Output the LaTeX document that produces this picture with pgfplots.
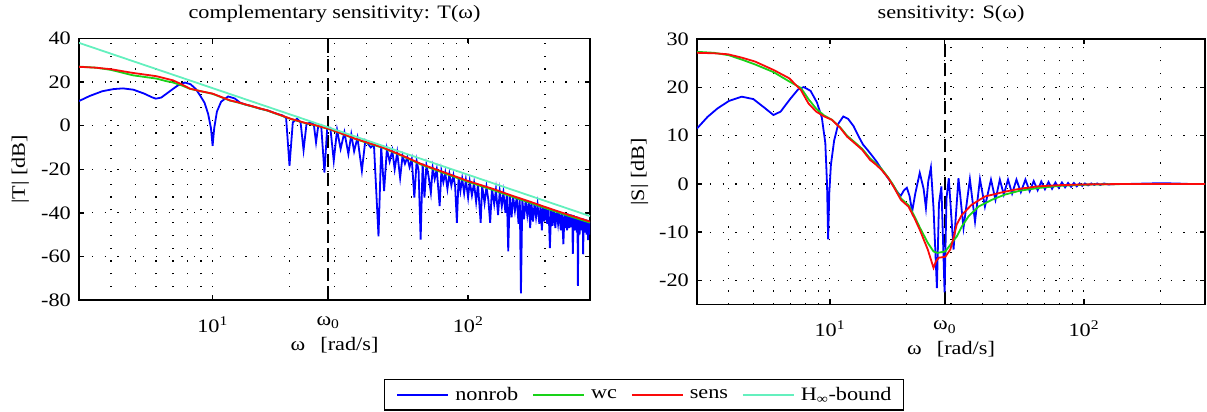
\documentclass[border=0pt]{standalone}
\usepackage{fontspec}
\setmainfont{Liberation Serif}[FakeStretch=1.17]
\usepackage{pgfplots}
\usepackage{pgfplotstable}
\pgfplotsset{compat=1.18}
\definecolor{cblue}{RGB}{0,0,255}
\definecolor{cgreen}{RGB}{25,210,25}
\definecolor{cred}{RGB}{250,10,10}
\definecolor{ccyan}{RGB}{100,240,190}
\newcommand{\myfont}{\fontsize{19bp}{22bp}\selectfont}
\pgfplotstableread{
w db
3.0 11.3
3.3 13.6
3.7 15.8
4.1 16.8
4.46 17.1
4.9 16.5
5.4 14.7
5.8 13.0
6.0 12.4
6.3 12.9
6.8 15.8
7.3 18.4
7.79 19.8
8.2 19.0
8.6 16.8
8.92 14.0
9.3 10.5
9.6 5.5
9.85 -1
10.0 -9.2
10.15 -1
10.4 6.5
10.8 11.0
11.5 13.4
12.2 12.5
12.8 10.6
13.5 9.6
14.3 8.9
15.3 7.8
16.4 7.0
17.3 6.0
18.0 5.3
18.8 4.7
19.4 3.5
20.0 -18.4
20.6 1.5
21.4 3.2
22.1 1.5
22.7 -11.2
23.3 0.6
24.2 1.6
24.9 0.5
25.4 -7.7
25.9 -0.2
26.6 0.3
27.4 -21.5
28.1 -0.8
28.9 -1.0
29.8 -16.1
30.7 -2.0
31.7 -10.7
32.8 -3.0
34.0 -13.0
34.9 -4.0
35.8 -11.8
36.9 -5.5
38.4 -20.7
39.6 -6.8
41.6 -10.0
42.8 -8.6
44.6 -50.8
45.7 -9.6
46.9 -30.0
48.1 -10.7
49.3 -16.5
50.5 -11.4
51.6 -20.0
52.8 -12.3
54.2 -24.0
55.4 -13.8
56.6 -17.5
57.8 -14.5
59.0 -19.0
60.2 -15.3
61.6 -33.0
62.9 -16.2
64.0 -20.5
65.2 -52.3
66.4 -17.4
67.5 -33.0
68.7 -18.2
70.0 -23.0
71.5 -30.8
72.7 -19.3
74.0 -24.5
75.4 -20.0
77.4 -36.9
78.6 -20.9
80.0 -26.0
81.4 -21.6
83.0 -29.0
84.5 -22.2
86.0 -27.5
87.6 -22.8
89.0 -28.0
90.4 -44.6
91.8 -23.6
93.3 -30.0
94.8 -24.3
96.5 -31.0
98.0 -24.9
100.0 -33.0
101.5 -25.6
103.5 -32.0
105.5 -26.3
107.5 -35.0
109.3 -26.9
112.0 -44.6
113.5 -27.5
116.0 -35.5
118.0 -28.0
120.0 -34.0
122.0 -44.6
124.0 -28.9
126.5 -36.0
128.5 -29.4
131.0 -41.0
133.0 -30.0
135.5 -37.0
137.5 -30.7
140.0 -40.0
141.8 -31.3
143.6 -57.7
145.5 -31.7
148.0 -42.0
150.0 -32.4
152.5 -39.0
155.0 -32.8
157.5 -45.0
159.3 -33.2
161.0 -77.0
163.0 -33.7
165.5 -43.0
168.0 -34.2
170.5 -41.0
173.0 -34.8
175.0 -47.0
177.0 -35.3
179.5 -44.0
182.0 -35.7
184.5 -42.0
187.0 -36.2
190.0 -45.0
192.0 -36.6
194.5 -48.0
196.5 -36.9
199.0 -44.0
201.5 -37.3
204.0 -45.0
206.5 -37.8
209.0 -56.2
211.5 -38.1
214.0 -46.0
216.5 -38.5
219.5 -47.0
222.0 -38.9
225.0 -45.0
227.5 -39.3
230.5 -48.0
233.0 -39.7
236.0 -54.4
238.5 -40.0
241.0 -47.0
242.5 -40.2
244.0 -48.0
246.0 -40.4
249.0 -47.0
251.5 -40.7
254.0 -46.5
255.5 -40.9
257.0 -58.8
259.0 -41.1
261.5 -48.0
264.0 -41.5
266.5 -49.0
268.0 -41.8
269.0 -73.5
270.5 -42.0
273.0 -50.0
275.5 -42.3
278.5 -48.0
281.0 -42.6
282.0 -59.0
283.5 -42.8
286.0 -49.0
288.5 -43.0
291.0 -50.0
293.0 -43.3
295.0 -52.5
297.0 -43.6
299.0 -50.0
300.0 -44.0
}\Tnonrob
\pgfplotstableread{
w db
3.0 27.1
3.5 26.6
4.0 25.6
4.88 23.1
6.03 21.6
6.6 20.4
7.0 19.8
7.56 18.5
8.15 16.9
8.92 15.9
10.0 14.6
11.7 11.5
12.5 10.7
14.3 8.8
16.4 6.9
18.3 4.9
20.3 3.0
23 1.2
25.5 0.0
28.6 -1.6
32 -3.7
36 -6.0
41 -8.2
46.4 -10.2
55 -13.8
65.6 -17.9
80 -21.7
100 -25.8
125 -29.5
150 -32.8
172 -35.1
200 -37.8
240 -40.9
270 -42.8
300 -44.5
}\Twc
\pgfplotstableread{
w db
3.0 27.0
3.5 26.6
4.0 25.9
4.88 24.2
6.03 22.7
7.0 20.8
7.56 19.0
8.15 17.0
8.92 15.9
10.0 14.7
11.7 11.6
12.5 10.8
14.3 8.9
16.4 7.0
18.3 5.0
20.3 3.1
23 1.3
25.5 0.1
28.6 -1.5
32 -3.6
36 -5.9
41 -8.0
46.4 -10.0
55 -13.6
65.6 -17.6
80 -21.3
100 -25.4
125 -29.0
150 -32.3
172 -34.6
200 -37.3
240 -40.4
270 -42.3
300 -44.0
}\Tsens
\pgfplotstableread{
w db
3 38.0
300 -41.5
}\Tbound
\pgfplotstableread{
w db
3.0 11.5
3.3 13.9
3.6 15.6
4.0 17.2
4.5 18.1
5.0 17.6
5.5 15.9
6.0 14.3
6.4 15.0
7.0 17.7
7.5 19.6
7.9 20.1
8.4 19.3
8.9 16.9
9.3 13.8
9.6 8.5
9.75 0.0
9.85 -11.5
9.95 -2.0
10.1 4.0
10.4 9.0
10.8 12.5
11.3 14.0
11.8 13.5
12.4 12.0
13.0 9.8
13.5 8.2
14.0 7.2
14.6 6.0
15.3 4.6
16.0 3.0
16.8 1.5
17.6 0.0
18.4 -1.6
19.0 -2.5
19.6 -1.3
20.1 -0.8
20.6 -2.5
21.1 -5.7
21.7 -2.0
22.6 2.3
23.4 -1.0
23.9 -5.0
24.4 0.5
25.0 3.4
25.6 -5.0
26.4 -21.6
26.9 -4.0
27.5 -0.5
28.3 -22.5
28.8 -3.0
29.4 1.2
30.7 -13.6
32.1 1.2
33.6 -9.1
35.6 1.0
37.3 -7.8
39.0 1.0
40.8 -4.7
43.1 0.9
44.9 -3.3
46.7 0.9
48.4 -2.2
50.3 0.9
52.2 -2.0
54.3 0.9
56.5 -1.7
58.9 0.9
61.2 -1.5
63.5 0.6
65.8 -1.3
68.0 0.5
70.3 -1.1
72.6 0.4
75.0 -1.0
77.3 0.3
79.7 -0.8
82.0 0.3
84.4 -0.7
86.7 0.2
89.1 -0.6
91.4 0.2
93.8 -0.5
96.2 0.1
98.6 -0.4
101 0.1
104 -0.3
107 0.1
110 -0.2
113 0.1
116 -0.2
120 0.1
125 -0.1
135 0.0
150 0.0
180 0.1
200 0.15
230 0.1
260 0.0
300 0.0
}\Snonrob
\pgfplotstableread{
w db
3.0 27.4
3.5 27.2
4.0 26.7
4.5 25.8
5.07 24.8
6.0 23.2
6.9 21.3
7.7 19.9
8.24 17.6
8.84 15.6
9.5 14.2
10.2 13.3
11.0 11.7
11.7 10.0
12.5 8.7
13.4 7.3
14.4 5.3
15.2 4.2
16.0 3.1
17.0 1.3
17.8 -0.3
19.05 -3.0
20.4 -4.4
21.5 -6.6
22.6 -9.0
24.3 -12.2
25.6 -14.0
26.5 -14.3
28.5 -14.0
30.2 -12.2
31.6 -10.9
33.1 -8.8
35.2 -6.7
38.5 -4.7
43.4 -3.3
48.9 -2.2
56 -1.4
65.9 -0.85
80 -0.4
100 -0.15
150 0.0
300 0.0
}\Swc
\pgfplotstableread{
w db
3.0 27.2
3.5 27.1
3.97 26.9
4.5 26.2
5.07 25.4
6.03 23.6
6.93 21.9
7.69 19.5
8.24 16.7
8.84 15.0
9.5 14.0
10.2 13.3
11.0 11.6
11.7 9.8
12.5 8.5
13.4 7.1
14.4 5.0
15.2 4.0
16.0 2.9
17.0 1.2
17.8 -0.5
19.05 -3.3
20.4 -4.7
21.5 -7.0
22.6 -9.5
24.3 -13.6
25.6 -17.4
26.2 -16.0
26.8 -15.3
28.5 -15.1
29.8 -13.6
30.7 -11.2
31.6 -8.4
33.1 -6.4
36.2 -4.3
40.8 -2.6
48.9 -1.6
56 -1.0
65.9 -0.5
80 -0.25
100 -0.1
150 0.0
300 0.0
}\Ssens
\begin{document}
\begin{tikzpicture}[font=\myfont]
\useasboundingbox (0,0) rectangle (1207bp,412bp);
\begin{axis}[
  xmode=log, scale only axis, xmin=3, xmax=300,
  axis line style={line width=1.8bp},
  tick style={line width=1.4bp, black},
  tick align=inside, major tick length=5bp, minor tick length=0bp,
  xtick pos=both, ytick pos=both,
  xtick={10,28.3,100},
  xticklabels={10\textsuperscript{1}, \raisebox{7bp}{ω\textsubscript{0}}, 10\textsuperscript{2}},
  minor xtick={4,5,6,7,8,9,20,30,40,50,60,70,80,90,200},
  xmajorgrids, xminorgrids, ymajorgrids,
  major grid style={black, line width=1.2bp, dash pattern=on 1.2bp off 11.6bp},
  minor grid style={black, line width=1.2bp, dash pattern=on 1.2bp off 11.6bp},
  xticklabel style={anchor=base, yshift=-32.5bp, inner sep=0pt},
  yticklabel style={anchor=east, inner sep=0pt, xshift=-8bp},
  tick label style={font=\myfont},
  title style={font=\myfont, anchor=base, at={(0.5,1)}, yshift=14.5bp, inner sep=0pt},
  xlabel style={at={(0.5,0)}, anchor=base, yshift=-50bp, inner sep=0pt, font=\myfont},
  xlabel={ω\hspace{0.8em}[rad/s]},
  at={(79bp,112bp)}, anchor=south west, width=511bp, height=261.5bp,
  ymin=-80, ymax=40, ytick={-80,-60,-40,-20,0,20,40},
  yticklabels={-80\hspace{5bp},-60\hspace{5bp},-40\hspace{5bp},-20\hspace{5bp},0,20,40},
  title={complementary sensitivity: T(ω)},
  ylabel style={at={(-0.1057,0.5)}, rotate=0, anchor=base, inner sep=0pt, font=\myfont},
  ylabel={|T| [dB]},
  legend style={at={(1.1057,-0.362)}, anchor=center, legend columns=4, draw=black, line width=1.2bp, fill=white,
    inner xsep=12bp, inner ysep=8bp, font=\myfont, nodes={inner sep=0bp},
    /tikz/every even column/.append style={column sep=14bp},
    /tikz/every odd column/.append style={column sep=6bp}},
  legend image code/.code={\draw[#1, line width=1.8bp] (0bp,0bp) -- (51bp,0bp);},
]
\addplot[black, line width=2bp, dash pattern=on 13bp off 6bp, forget plot] coordinates {(28.3,-80) (28.3,40)};
\addplot[cblue, line width=1.8bp] table[x=w,y=db] {\Tnonrob};
\addlegendentry{nonrob}
\addplot[cgreen, line width=1.8bp] table[x=w,y=db] {\Twc};
\addlegendentry{wc}
\addplot[cred, line width=1.8bp] table[x=w,y=db] {\Tsens};
\addlegendentry{sens}
\addplot[ccyan, line width=1.8bp] table[x=w,y=db] {\Tbound};
\addlegendentry{H\textsubscript{∞}-bound}
\end{axis}
\begin{axis}[
  xmode=log, scale only axis, xmin=3, xmax=300,
  axis line style={line width=1.8bp},
  tick style={line width=1.4bp, black},
  tick align=inside, major tick length=5bp, minor tick length=0bp,
  xtick pos=both, ytick pos=both,
  xtick={10,28.3,100},
  xticklabels={10\textsuperscript{1}, \raisebox{7bp}{ω\textsubscript{0}}, 10\textsuperscript{2}},
  minor xtick={4,5,6,7,8,9,20,30,40,50,60,70,80,90,200},
  xmajorgrids, xminorgrids, ymajorgrids,
  major grid style={black, line width=1.2bp, dash pattern=on 1.2bp off 11.6bp},
  minor grid style={black, line width=1.2bp, dash pattern=on 1.2bp off 11.6bp},
  xticklabel style={anchor=base, yshift=-32.5bp, inner sep=0pt},
  yticklabel style={anchor=east, inner sep=0pt, xshift=-8bp},
  tick label style={font=\myfont},
  title style={font=\myfont, anchor=base, at={(0.5,1)}, yshift=14.5bp, inner sep=0pt},
  xlabel style={at={(0.5,0)}, anchor=base, yshift=-50bp, inner sep=0pt, font=\myfont},
  xlabel={ω\hspace{0.8em}[rad/s]},
  at={(697bp,107.5bp)}, anchor=south west, width=508bp, height=265.2bp,
  ymin=-25, ymax=30, ytick={-20,-10,0,10,20,30},
  yticklabels={-20\hspace{5bp},-10\hspace{5bp},0,10,20,30},
  title={sensitivity: S(ω)},
  ylabel style={at={(-0.1043,0.5)}, rotate=0, anchor=base, inner sep=0pt, font=\myfont},
  ylabel={|S| [dB]},
]
\addplot[black, line width=2bp, dash pattern=on 13bp off 6bp, forget plot] coordinates {(28.3,-25) (28.3,30)};
\addplot[cblue, line width=1.8bp] table[x=w,y=db] {\Snonrob};
\addplot[cgreen, line width=1.8bp] table[x=w,y=db] {\Swc};
\addplot[cred, line width=1.8bp] table[x=w,y=db] {\Ssens};
\end{axis}
\end{tikzpicture}
\end{document}
